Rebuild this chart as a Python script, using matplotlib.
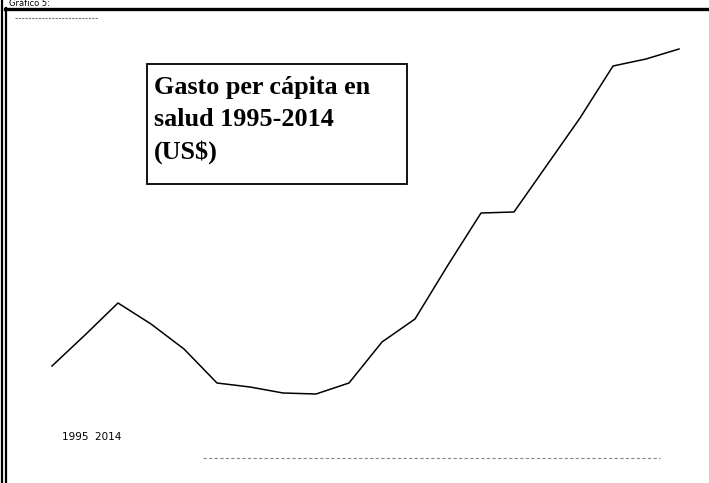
import matplotlib.pyplot as plt
from matplotlib.lines import Line2D
from matplotlib.patches import Rectangle

# datos (escala aproximada, US$)
anios = list(range(1995, 2015))
gasto = [54, 85, 117, 96, 71, 37, 33, 27, 26, 37,
         78, 101, 155, 207, 208, 255, 302, 354, 361, 371]

titulo = "Gasto per cápita en\nsalud 1995-2014\n(US$)"
leyenda = "1995  2014"

fig = plt.figure(figsize=(7.09, 4.83), dpi=100)
W, H = 709, 483

# ejes sin marcas que cubren toda la figura
ax = fig.add_axes([0, 0, 1, 1])
ax.set_xlim(1995 - 52 / 33, 1995 + (W - 52) / 33)
ax.set_ylim(420 - H, 420)
ax.axis("off")

ax.plot(anios, gasto, color="black", linewidth=1.1)

# marco escaneado
fig.add_artist(Line2D([2 / W, 2 / W], [0, 1], color="black", lw=1.6))
fig.add_artist(Line2D([6 / W, 6 / W], [0, 1 - 8 / H], color="black", lw=1.6))
fig.add_artist(Line2D([5 / W, 1], [1 - 9 / H, 1 - 9 / H], color="black", lw=2.4))

# restos de lineas punteadas
fig.add_artist(Line2D([15 / W, 98 / W], [1 - 18 / H, 1 - 18 / H],
                      color="#777777", lw=0.8, ls=(0, (2, 1))))
fig.add_artist(Line2D([203 / W, 660 / W], [1 - 458 / H, 1 - 458 / H],
                      color="#888888", lw=0.8, ls=(0, (3, 2))))

# rotulo superior (cortado en el original)
fig.text(9 / W, 1 - 6.5 / H, "Gráfico 5:", fontsize=6, va="baseline",
         ha="left", family="DejaVu Sans")

# caja del titulo
fig.add_artist(Rectangle((147 / W, 1 - 184 / H), 260 / W, 120 / H,
                         transform=fig.transFigure, fill=False,
                         edgecolor="black", lw=1.3))
fig.text(154 / W, 1 - 76 / H, titulo, fontsize=18.8, fontweight="bold",
         family="Liberation Serif", va="top", ha="left", linespacing=1.5)

fig.text(62 / W, 1 - 437 / H, leyenda, fontsize=7.5, va="center",
         ha="left", family="DejaVu Sans")

fig.savefig("out.png", dpi=100)
